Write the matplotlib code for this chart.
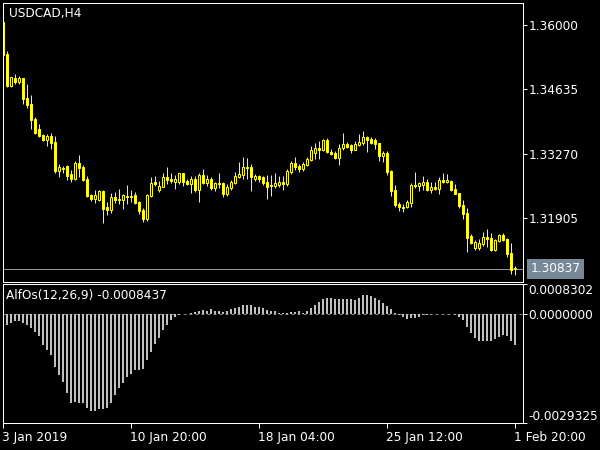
import numpy as np
import matplotlib
matplotlib.use("Agg")
from matplotlib import pyplot as plt

# chart data
symbol = "USDCAD,H4"
osc_name = "AlfOs(12,26,9)"

opens = [1.36064, 1.35385, 1.34705, 1.34875, 1.34790, 1.34875, 1.34451, 1.34323, 1.34005, 1.33792,
         1.33665, 1.33559, 1.33644, 1.33516, 1.32901, 1.32965, 1.33007, 1.32837, 1.32731, 1.33071,
         1.32986, 1.32731, 1.32391, 1.32306, 1.32285, 1.32476, 1.32137, 1.32073, 1.32349, 1.32306,
         1.32285, 1.32370, 1.32370, 1.32391, 1.32243, 1.32073, 1.31882, 1.32370, 1.32667, 1.32497,
         1.32561, 1.32773, 1.32731, 1.32667, 1.32667, 1.32858, 1.32689, 1.32625, 1.32731, 1.32497,
         1.32816, 1.32646, 1.32731, 1.32540, 1.32646, 1.32646, 1.32413, 1.32540, 1.32646, 1.32773,
         1.32816, 1.32986, 1.32986, 1.32731, 1.32795, 1.32773, 1.32667, 1.32604, 1.32582, 1.32604,
         1.32667, 1.32625, 1.32880, 1.33071, 1.33007, 1.32943, 1.33028, 1.33134, 1.33283, 1.33389,
         1.33347, 1.33559, 1.33304, 1.33283, 1.33177, 1.33389, 1.33474, 1.33453, 1.33347, 1.33453,
         1.33495, 1.33623, 1.33580, 1.33559, 1.33495, 1.33219, 1.33283, 1.32901, 1.32497, 1.32200,
         1.32137, 1.32137, 1.32222, 1.32604, 1.32582, 1.32604, 1.32667, 1.32497, 1.32561, 1.32519,
         1.32710, 1.32667, 1.32689, 1.32519, 1.32434, 1.32179, 1.32009, 1.31521, 1.31266, 1.31266,
         1.31351, 1.31500, 1.31478, 1.31224, 1.31415, 1.31542, 1.31457, 1.31160, 1.30842]
highs = [1.36191, 1.35448, 1.34896, 1.34960, 1.34918, 1.34875, 1.34748, 1.34514, 1.34047, 1.33899,
         1.33686, 1.33686, 1.33708, 1.33644, 1.33049, 1.33007, 1.33028, 1.32922, 1.33113, 1.33241,
         1.33028, 1.32795, 1.32413, 1.32497, 1.32497, 1.32497, 1.32243, 1.32434, 1.32455, 1.32519,
         1.32413, 1.32604, 1.32497, 1.32455, 1.32264, 1.32115, 1.32413, 1.32773, 1.32795, 1.32689,
         1.32858, 1.32986, 1.32858, 1.32816, 1.32858, 1.32858, 1.32731, 1.32795, 1.32795, 1.32858,
         1.32943, 1.32816, 1.32773, 1.32667, 1.32858, 1.32667, 1.32625, 1.32710, 1.32880, 1.33092,
         1.33198, 1.33177, 1.33049, 1.32837, 1.32816, 1.32795, 1.32816, 1.32816, 1.32858, 1.32795,
         1.32795, 1.32943, 1.33113, 1.33198, 1.33049, 1.33092, 1.33198, 1.33432, 1.33495, 1.33538,
         1.33580, 1.33601, 1.33368, 1.33325, 1.33474, 1.33708, 1.33516, 1.33474, 1.33538, 1.33686,
         1.33750, 1.33644, 1.33623, 1.33601, 1.33495, 1.33325, 1.33325, 1.32922, 1.32604, 1.32243,
         1.32200, 1.32285, 1.32646, 1.32880, 1.32667, 1.32795, 1.32731, 1.32667, 1.32667, 1.32773,
         1.32858, 1.32837, 1.32710, 1.32625, 1.32434, 1.32285, 1.32115, 1.31563, 1.31436, 1.31457,
         1.31606, 1.31670, 1.31585, 1.31457, 1.31563, 1.31585, 1.31478, 1.31372, 1.30884]
lows = [1.35342, 1.34684, 1.34684, 1.34748, 1.34748, 1.34323, 1.34238, 1.33792, 1.33686, 1.33623,
        1.33538, 1.33432, 1.33368, 1.32858, 1.32773, 1.32858, 1.32710, 1.32667, 1.32710, 1.32773,
        1.32689, 1.32349, 1.32264, 1.32222, 1.32264, 1.31797, 1.31967, 1.32009, 1.32222, 1.32200,
        1.32094, 1.32200, 1.32243, 1.32200, 1.31988, 1.31818, 1.31839, 1.32349, 1.32582, 1.32455,
        1.32561, 1.32625, 1.32646, 1.32519, 1.32625, 1.32582, 1.32604, 1.32434, 1.32455, 1.32243,
        1.32625, 1.32582, 1.32497, 1.32476, 1.32540, 1.32349, 1.32370, 1.32497, 1.32625, 1.32752,
        1.32731, 1.32731, 1.32476, 1.32689, 1.32667, 1.32604, 1.32306, 1.32370, 1.32540, 1.32561,
        1.32497, 1.32582, 1.32837, 1.32922, 1.32880, 1.32901, 1.33007, 1.33113, 1.33156, 1.33156,
        1.33325, 1.33283, 1.33241, 1.33156, 1.33028, 1.33347, 1.33389, 1.33283, 1.33347, 1.33432,
        1.33453, 1.33304, 1.33474, 1.33368, 1.33113, 1.33092, 1.32816, 1.32370, 1.32137, 1.32052,
        1.32030, 1.32115, 1.32137, 1.32540, 1.32476, 1.32497, 1.32476, 1.32434, 1.32497, 1.32413,
        1.32646, 1.32646, 1.32476, 1.32413, 1.32115, 1.31882, 1.31181, 1.31351, 1.31224, 1.31224,
        1.31309, 1.31287, 1.31203, 1.31203, 1.31394, 1.31415, 1.31075, 1.30735, 1.30693]
closes = [1.35363, 1.34705, 1.34896, 1.34790, 1.34875, 1.34429, 1.34302, 1.33984, 1.33708, 1.33644,
          1.33559, 1.33644, 1.33495, 1.32901, 1.32986, 1.32943, 1.32795, 1.32731, 1.33071, 1.32965,
          1.32710, 1.32370, 1.32306, 1.32391, 1.32476, 1.32094, 1.32073, 1.32349, 1.32285, 1.32285,
          1.32391, 1.32349, 1.32349, 1.32222, 1.32052, 1.31882, 1.32391, 1.32646, 1.32625, 1.32582,
          1.32773, 1.32710, 1.32689, 1.32731, 1.32858, 1.32667, 1.32625, 1.32731, 1.32497, 1.32816,
          1.32646, 1.32731, 1.32540, 1.32646, 1.32625, 1.32413, 1.32561, 1.32667, 1.32795, 1.32837,
          1.32986, 1.32965, 1.32773, 1.32795, 1.32731, 1.32646, 1.32561, 1.32582, 1.32646, 1.32667,
          1.32625, 1.32901, 1.33071, 1.32986, 1.32943, 1.33049, 1.33156, 1.33347, 1.33389, 1.33347,
          1.33559, 1.33304, 1.33262, 1.33177, 1.33389, 1.33474, 1.33410, 1.33347, 1.33474, 1.33516,
          1.33623, 1.33559, 1.33495, 1.33474, 1.33219, 1.33283, 1.32880, 1.32476, 1.32179, 1.32137,
          1.32115, 1.32243, 1.32604, 1.32582, 1.32646, 1.32667, 1.32497, 1.32561, 1.32519, 1.32710,
          1.32667, 1.32710, 1.32497, 1.32413, 1.32158, 1.31988, 1.31478, 1.31372, 1.31394, 1.31372,
          1.31500, 1.31457, 1.31224, 1.31436, 1.31542, 1.31436, 1.31139, 1.30799, 1.30837]

osc = [-0.000300, -0.000282, -0.000227, -0.000191, -0.000191, -0.000227, -0.000300, -0.000364, -0.000473, -0.000591,
       -0.000836, -0.000982, -0.001100, -0.001418, -0.001645, -0.001836, -0.002127, -0.002400, -0.002372, -0.002409,
       -0.002418, -0.002536, -0.002627, -0.002627, -0.002563, -0.002563, -0.002545, -0.002418, -0.002191, -0.002000,
       -0.001854, -0.001709, -0.001618, -0.001500, -0.001500, -0.001491, -0.001236, -0.001018, -0.000800, -0.000636,
       -0.000436, -0.000291, -0.000164, -0.000073, -0.000018, 0.000005, 0.000009, 0.000027, 0.000055, 0.000091,
       0.000100, 0.000073, 0.000127, 0.000091, 0.000082, 0.000064, 0.000091, 0.000127, 0.000173, 0.000191,
       0.000245, 0.000255, 0.000236, 0.000200, 0.000182, 0.000155, 0.000109, 0.000091, 0.000073, 0.000045,
       0.000045, 0.000045, 0.000055, 0.000055, 0.000073, 0.000045, 0.000073, 0.000164, 0.000255, 0.000327,
       0.000418, 0.000436, 0.000436, 0.000409, 0.000409, 0.000409, 0.000409, 0.000400, 0.000382, 0.000436,
       0.000518, 0.000518, 0.000491, 0.000436, 0.000382, 0.000300, 0.000227, 0.000127, 0.000027, -0.000027,
       -0.000073, -0.000127, -0.000109, -0.000100, -0.000064, -0.000027, -0.000009, -0.000005, 0.000003, 0.000005,
       0.000008, 0.000006, 0.000002, -0.000009, -0.000064, -0.000145, -0.000345, -0.000509, -0.000655, -0.000727,
       -0.000727, -0.000727, -0.000727, -0.000673, -0.000618, -0.000564, -0.000591, -0.000727, -0.0008437]

time_labels = ["3 Jan 2019", "10 Jan 20:00", "18 Jan 04:00", "25 Jan 12:00", "1 Feb 20:00"]
time_label_bars = [0, 32, 64, 96, 128]
price_ticks = [1.36000, 1.34635, 1.33270, 1.31905]
price_range = (1.30566, 1.36467)
osc_range = (-0.0029325, 0.0008302)
bid = 1.30837

# ------------------------------------------------------------------------------------------------
W, H = 600, 450
FS = 8.7
LW = 0.72  # one pixel at 100 dpi

fig = plt.figure(figsize=(W / 100, H / 100), dpi=100, facecolor='black')


def PxAxes(left, top, right, bottom):
    a = fig.add_axes([left / W, 1 - bottom / H, (right - left) / W, (bottom - top) / H])
    a.set_facecolor('black')
    for s in a.spines.values():
        s.set_color('white')
        s.set_linewidth(LW)
    return a


ax1 = PxAxes(2.5, 2.5, 522.5, 281.5)
ax2 = PxAxes(2.5, 283.5, 522.5, 422.5)

n = np.arange(len(opens))
o, h, l, c = map(np.array, (opens, highs, lows, closes))
up = c >= o

# candles
ax1.vlines(n, l, h, color='#FFFF00', lw=LW, zorder=2)
ax1.bar(n, np.abs(c - o), 0.5, np.minimum(o, c), color=np.where(up, 'black', 'white'),
        edgecolor='#FFFF00', lw=LW, zorder=3)
ax1.axhline(bid, color='#8d98a3', lw=LW, zorder=1)
ax1.annotate(f'{bid:.5f}', xy=(1, bid), xycoords=ax1.get_yaxis_transform(), xytext=(5.6, 0),
             textcoords='offset points', va='center', ha='left', color='white', fontsize=FS,
             bbox=dict(boxstyle='square,pad=0.28', fc='#778899', ec='none'), annotation_clip=False)

ax1.set_xlim(0, 130)
ax1.set_ylim(*price_range)
ax1.set_xticks([])
ax1.yaxis.tick_right()
ax1.set_yticks(price_ticks)
ax1.set_yticklabels([f'{p:.5f}' for p in price_ticks])
ax1.tick_params(axis='y', colors='white', length=2.9, width=LW, pad=1.5, labelsize=FS)
ax1.text(7 / 520, 1 - 4 / 279, symbol, transform=ax1.transAxes, va='top', ha='left',
         color='white', fontsize=FS)

# oscillator
ax2.bar(n, osc, 0.5, color='#C0C0C0', lw=0, zorder=2)
ax2.axhline(0, color='#778899', lw=LW, ls=(0, (3, 3)), zorder=1)
ax2.set_xlim(0, 130)
ax2.set_ylim(*osc_range)
ax2.yaxis.tick_right()
ax2.set_yticks([osc_range[1], 0, osc_range[0]])
ax2.set_yticklabels([f'{osc_range[1]:.7f}', f'{0:.7f}', f'{osc_range[0]:.7f}'])
ax2.tick_params(axis='y', colors='white', length=2.9, width=LW, pad=1.5, labelsize=FS)
ylabs = ax2.get_yticklabels()
ylabs[0].set_va('top')
ylabs[2].set_va('bottom')
ax2.set_xticks(time_label_bars)
ax2.set_xticklabels(time_labels)
ax2.tick_params(axis='x', colors='white', length=3.6, width=LW, pad=2.5, labelsize=FS)
for t in ax2.get_xticklabels():
    t.set_ha('left')
ax2.text(4 / 520, 1 - 5 / 139, f'{osc_name} {osc[-1]:.7f}', transform=ax2.transAxes,
         va='top', ha='left', color='white', fontsize=FS)

fig.savefig('out.png', dpi=100, facecolor='black')
